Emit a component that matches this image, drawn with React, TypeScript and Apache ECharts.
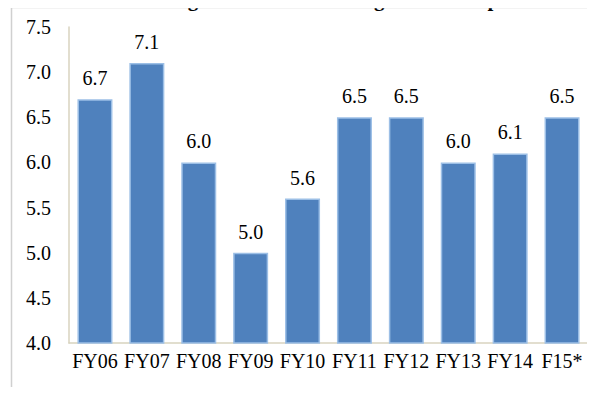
import React, { useEffect, useRef } from "react";
import * as echarts from "echarts";

// Real GDP growth by fiscal year (%)
const categories = ["FY06", "FY07", "FY08", "FY09", "FY10", "FY11", "FY12", "FY13", "FY14", "F15*"];
const growth = [6.7, 7.1, 6.0, 5.0, 5.6, 6.5, 6.5, 6.0, 6.1, 6.5];
const title = "Figure 1: Robust GDP growth over past decade";

const serif = "Liberation Serif, Times New Roman, serif";

export default function App() {
  const ref = useRef<HTMLDivElement>(null);

  useEffect(() => {
    if (!ref.current) return;
    const chart = echarts.init(ref.current, null, { renderer: "svg" });
    chart.setOption({
      animation: false,
      backgroundColor: "#ffffff",
      graphic: [
        {
          type: "text",
          x: 592,
          y: 9,
          style: {
            text: title,
            font: `bold 21px ${serif}`,
            fill: "#000",
            align: "right",
            verticalAlign: "bottom",
          },
          silent: true,
        },
        {
          type: "line",
          shape: { x1: 11, y1: 7.5, x2: 595, y2: 7.5 },
          style: { stroke: "#d0d0d0", lineWidth: 1.5 },
          silent: true,
        },
        {
          type: "line",
          shape: { x1: 11.5, y1: 7, x2: 11.5, y2: 395 },
          style: { stroke: "#d0d0d0", lineWidth: 1.5 },
          silent: true,
        },
      ],
      grid: { left: 69, right: 7, top: 27, bottom: 52 },
      xAxis: {
        type: "category",
        data: categories,
        axisLine: { show: true, lineStyle: { color: "#d8d3bf", width: 1.5 } },
        axisTick: { show: false },
        axisLabel: {
          color: "#000",
          fontFamily: serif,
          fontSize: 20,
          margin: 8,
          interval: 0,
        },
      },
      yAxis: {
        type: "value",
        min: 4.0,
        max: 7.5,
        interval: 0.5,
        axisLine: { show: true, lineStyle: { color: "#d8d3bf", width: 1.5 } },
        axisTick: { show: false },
        splitLine: { show: false },
        axisLabel: {
          color: "#000",
          fontFamily: serif,
          fontSize: 20,
          margin: 18,
          formatter: (v: number) => v.toFixed(1),
        },
      },
      series: [
        {
          type: "bar",
          data: growth,
          barWidth: 35,
          itemStyle: {
            color: "#4f81bd",
            borderColor: "#9cbfe6",
            borderWidth: 1.5,
          },
          label: {
            show: true,
            position: "top",
            distance: 11,
            color: "#000",
            fontFamily: serif,
            fontSize: 20,
            formatter: (p: any) => Number(p.value).toFixed(1),
          },
        },
      ],
    });
    return () => chart.dispose();
  }, []);

  return <div ref={ref} style={{ width: 595, height: 395, margin: -8 }} />;
}
